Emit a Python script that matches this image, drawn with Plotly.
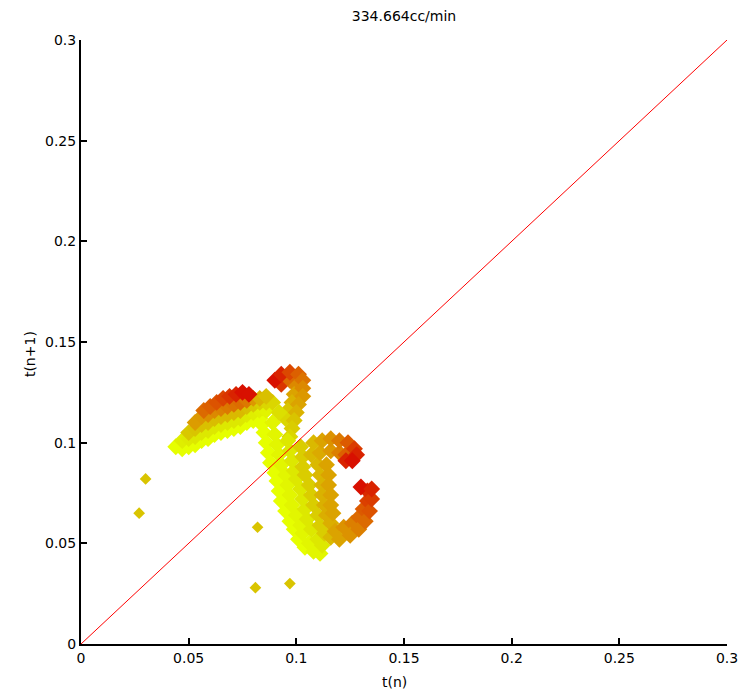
import plotly.graph_objects as go

# ---- data (t(n), t(n+1), colour value 0=yellow .. 1=red) ----
arc_l5_x = [0.044, 0.047, 0.050, 0.053, 0.056, 0.059, 0.062, 0.065, 0.068, 0.071, 0.074, 0.077, 0.080, 0.083]
arc_l5_y = [0.098, 0.097, 0.098, 0.099, 0.101, 0.102, 0.104, 0.105, 0.106, 0.107, 0.108, 0.110, 0.111, 0.112]
arc_l5_c = [0.0] * 14

arc_l4_x = [0.047, 0.050, 0.053, 0.056, 0.059, 0.062, 0.065, 0.068, 0.071, 0.074, 0.077, 0.080, 0.083, 0.086]
arc_l4_y = [0.101, 0.102, 0.103, 0.105, 0.106, 0.108, 0.109, 0.110, 0.111, 0.112, 0.114, 0.115, 0.116, 0.116]
arc_l4_c = [0.15, 0.18, 0.2, 0.2, 0.2, 0.2, 0.2, 0.2, 0.2, 0.2, 0.18, 0.15, 0.12, 0.1]

arc_l3_x = [0.050, 0.053, 0.056, 0.059, 0.062, 0.065, 0.068, 0.071, 0.074, 0.077, 0.080, 0.083, 0.086, 0.089]
arc_l3_y = [0.105, 0.107, 0.109, 0.110, 0.112, 0.113, 0.114, 0.115, 0.116, 0.118, 0.119, 0.120, 0.120, 0.120]
arc_l3_c = [0.38, 0.4, 0.42, 0.42, 0.43, 0.44, 0.45, 0.45, 0.45, 0.42, 0.38, 0.34, 0.3, 0.3]

arc_l2_x = [0.053, 0.056, 0.059, 0.062, 0.065, 0.068, 0.071, 0.074, 0.077, 0.080, 0.083, 0.086]
arc_l2_y = [0.110, 0.113, 0.114, 0.116, 0.117, 0.118, 0.119, 0.120, 0.121, 0.122, 0.122, 0.123]
arc_l2_c = [0.58, 0.6, 0.63, 0.65, 0.67, 0.7, 0.72, 0.74, 0.7, 0.6, 0.48, 0.42]

arc_l1_x = [0.057, 0.060, 0.063, 0.066, 0.069, 0.072, 0.075, 0.078]
arc_l1_y = [0.116, 0.118, 0.120, 0.122, 0.123, 0.124, 0.125, 0.124]
arc_l1_c = [0.75, 0.78, 0.82, 0.86, 0.9, 0.95, 1.0, 1.0]

link_x = [0.084, 0.089]
link_y = [0.109, 0.110]
link_c = [0.0, 0.1]

hook_out_x = [0.090, 0.093, 0.097, 0.101, 0.103, 0.103, 0.103, 0.101, 0.100, 0.099, 0.098, 0.097]
hook_out_y = [0.131, 0.134, 0.135, 0.134, 0.131, 0.127, 0.123, 0.119, 0.115, 0.111, 0.107, 0.103]
hook_out_c = [1.0, 0.95, 0.85, 0.78, 0.72, 0.65, 0.6, 0.55, 0.48, 0.4, 0.35, 0.3]

hook_in_x = [0.093, 0.097, 0.100, 0.099, 0.098, 0.096, 0.095, 0.092]
hook_in_y = [0.129, 0.131, 0.128, 0.124, 0.120, 0.116, 0.112, 0.115]
hook_in_c = [0.9, 0.75, 0.65, 0.55, 0.48, 0.4, 0.3, 0.25]

v1_x = [0.085, 0.086, 0.087, 0.088, 0.090, 0.091, 0.092, 0.093, 0.095, 0.097, 0.099, 0.101, 0.104]
v1_y = [0.105, 0.100, 0.095, 0.090, 0.085, 0.081, 0.076, 0.071, 0.066, 0.061, 0.057, 0.052, 0.048]
v1_c = [0.0] * 13

v2_x = [0.090, 0.091, 0.092, 0.093, 0.095, 0.096, 0.097, 0.098, 0.100, 0.102, 0.103, 0.106, 0.108, 0.111]
v2_y = [0.104, 0.099, 0.094, 0.089, 0.084, 0.079, 0.074, 0.069, 0.064, 0.059, 0.055, 0.050, 0.046, 0.045]
v2_c = [0.08] * 14

v3_x = [0.096, 0.097, 0.098, 0.099, 0.100, 0.102, 0.103, 0.104, 0.105, 0.107, 0.110, 0.112]
v3_y = [0.101, 0.096, 0.091, 0.086, 0.082, 0.077, 0.072, 0.067, 0.062, 0.057, 0.052, 0.049]
v3_c = [0.2] * 12

v4_x = [0.102, 0.103, 0.103, 0.104, 0.106, 0.107, 0.108, 0.110, 0.111, 0.113, 0.116]
v4_y = [0.098, 0.093, 0.088, 0.084, 0.079, 0.074, 0.069, 0.064, 0.059, 0.055, 0.053]
v4_c = [0.35] * 10 + [0.45]

top_out_x = [0.108, 0.112, 0.116, 0.120, 0.124, 0.127, 0.128, 0.126]
top_out_y = [0.100, 0.101, 0.102, 0.101, 0.100, 0.097, 0.094, 0.091]
top_out_c = [0.45, 0.55, 0.62, 0.7, 0.8, 0.88, 0.95, 1.0]

top_in_x = [0.107, 0.111, 0.116, 0.120, 0.123, 0.123]
top_in_y = [0.094, 0.095, 0.096, 0.095, 0.094, 0.091]
top_in_c = [0.45, 0.52, 0.6, 0.68, 0.78, 0.95]

spine1_x = [0.110, 0.111, 0.112, 0.112, 0.113, 0.114, 0.116]
spine1_y = [0.089, 0.084, 0.079, 0.074, 0.069, 0.064, 0.060]
spine1_c = [0.45, 0.46, 0.47, 0.48, 0.49, 0.5, 0.5]

spine2_x = [0.114, 0.115, 0.115, 0.116, 0.116, 0.117]
spine2_y = [0.089, 0.084, 0.079, 0.074, 0.069, 0.065]
spine2_c = [0.55] * 6

bot_in_x = [0.118, 0.122, 0.126, 0.129, 0.131, 0.133, 0.133, 0.130]
bot_in_y = [0.056, 0.058, 0.060, 0.063, 0.067, 0.071, 0.076, 0.078]
bot_in_c = [0.55, 0.62, 0.68, 0.75, 0.8, 0.87, 0.93, 1.0]

bot_out_x = [0.120, 0.125, 0.129, 0.132, 0.134, 0.135, 0.135]
bot_out_y = [0.052, 0.054, 0.057, 0.061, 0.066, 0.072, 0.077]
bot_out_c = [0.55, 0.62, 0.68, 0.75, 0.82, 0.88, 0.95]

lone_x = [0.030, 0.027, 0.082, 0.081, 0.097]
lone_y = [0.082, 0.065, 0.058, 0.028, 0.030]
lone_c = [0.4] * 5

diag_x = [0.0, 0.3]
diag_y = [0.0, 0.3]

tick_vals = [0, 0.05, 0.1, 0.15, 0.2, 0.25, 0.3]
tick_text = ["0", "0.05", "0.1", "0.15", "0.2", "0.25", "0.3"]

cluster_groups = [
    (arc_l5_x, arc_l5_y, arc_l5_c), (arc_l4_x, arc_l4_y, arc_l4_c),
    (arc_l3_x, arc_l3_y, arc_l3_c), (arc_l2_x, arc_l2_y, arc_l2_c),
    (arc_l1_x, arc_l1_y, arc_l1_c), (link_x, link_y, link_c),
    (hook_in_x, hook_in_y, hook_in_c), (hook_out_x, hook_out_y, hook_out_c),
    (v1_x, v1_y, v1_c), (v2_x, v2_y, v2_c), (v3_x, v3_y, v3_c), (v4_x, v4_y, v4_c),
    (spine1_x, spine1_y, spine1_c), (spine2_x, spine2_y, spine2_c),
    (top_in_x, top_in_y, top_in_c), (top_out_x, top_out_y, top_out_c),
    (bot_in_x, bot_in_y, bot_in_c), (bot_out_x, bot_out_y, bot_out_c),
]
xs, ys, cs = [], [], []
for gx, gy, gc in cluster_groups:
    xs += gx
    ys += gy
    cs += gc

colorscale = [[0.0, "#e6ff00"], [0.2, "#dde800"], [0.4, "#d9c400"],
              [0.6, "#dc9800"], [0.8, "#dc5a00"], [1.0, "#d81000"]]

fig = go.Figure()
fig.add_trace(go.Scatter(
    x=lone_x, y=lone_y, mode="markers",
    marker=dict(symbol="diamond", size=9, color=lone_c, colorscale=colorscale,
                cmin=0, cmax=1, showscale=False, line=dict(width=0)),
    hoverinfo="skip"))
fig.add_trace(go.Scatter(
    x=xs, y=ys, mode="markers",
    marker=dict(symbol="diamond", size=13, color=cs, colorscale=colorscale,
                cmin=0, cmax=1, showscale=False, line=dict(width=0)),
    hoverinfo="skip"))
fig.add_trace(go.Scatter(x=diag_x, y=diag_y, mode="lines",
                         line=dict(color="#ff0000", width=1), hoverinfo="skip"))

axis_common = dict(range=[0, 0.3], tickvals=tick_vals, ticktext=tick_text,
                   showline=True, linecolor="black", linewidth=2,
                   ticks="inside", ticklen=6, tickwidth=1.5, tickcolor="black",
                   showgrid=False, zeroline=False, mirror=False, automargin=False,
                   tickfont=dict(size=14, color="black"))

fig.update_layout(
    width=739, height=700,
    margin=dict(l=81, r=12, t=40, b=56, autoexpand=False),
    paper_bgcolor="white", plot_bgcolor="white",
    showlegend=False,
    font=dict(family="DejaVu Sans", size=13, color="black"),
    title=dict(text="334.664cc/min", x=0.5, xref="paper", y=1 - 16 / 700,
               yref="container", yanchor="middle", xanchor="center",
               font=dict(size=14, color="black")),
    xaxis=dict(axis_common),
    yaxis=dict(axis_common),
    annotations=[
        dict(text="t(n)", xref="paper", yref="paper", x=0.485, y=-38 / 604,
             xanchor="center", yanchor="middle", showarrow=False,
             font=dict(size=14, color="black")),
        dict(text="t(n+1)", xref="paper", yref="paper", x=-51 / 646, y=0.48,
             xanchor="center", yanchor="middle", showarrow=False, textangle=-90,
             font=dict(size=14, color="black")),
    ],
)

fig.write_html("out.html")
